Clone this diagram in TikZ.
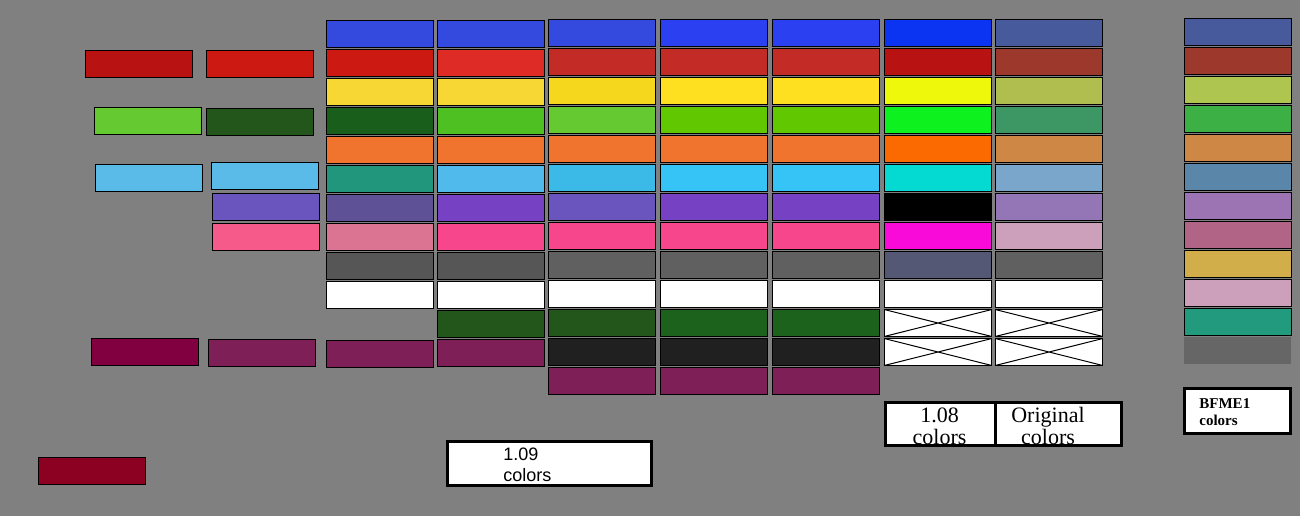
\documentclass[tikz,border=0pt]{standalone}
\usepackage{fontspec}
\setmainfont{Liberation Serif}
\setsansfont{Liberation Sans}
\usepackage{xcolor}
\usetikzlibrary{positioning}
\definecolor{bggray}{HTML}{808080}
\definecolor{blueA}{HTML}{3449DD}
\definecolor{blueB}{HTML}{2B40F0}
\definecolor{blueC}{HTML}{0A34F2}
\definecolor{blueD}{HTML}{465A9C}
\definecolor{redA}{HTML}{CC1A12}
\definecolor{redB}{HTML}{DE2B25}
\definecolor{redC}{HTML}{C32B27}
\definecolor{redD}{HTML}{B91212}
\definecolor{redE}{HTML}{9C382C}
\definecolor{yelA}{HTML}{F7D733}
\definecolor{yelB}{HTML}{F5D81E}
\definecolor{yelC}{HTML}{FFE020}
\definecolor{yelD}{HTML}{EDF80A}
\definecolor{yelE}{HTML}{AFBE4E}
\definecolor{yelF}{HTML}{AEC650}
\definecolor{grnA}{HTML}{1A5E1C}
\definecolor{grnB}{HTML}{4EC021}
\definecolor{grnC}{HTML}{65C932}
\definecolor{grnD}{HTML}{61C700}
\definecolor{grnE}{HTML}{0DF11F}
\definecolor{grnF}{HTML}{3D9764}
\definecolor{grnG}{HTML}{3DB045}
\definecolor{dkgrn}{HTML}{22561B}
\definecolor{dkgrnB}{HTML}{1C621C}
\definecolor{orgA}{HTML}{F0742E}
\definecolor{orgB}{HTML}{FB6A00}
\definecolor{orgC}{HTML}{CF8746}
\definecolor{tealA}{HTML}{21967D}
\definecolor{tealB}{HTML}{219A7E}
\definecolor{cyanA}{HTML}{4FBAEB}
\definecolor{cyanL}{HTML}{5ABBE8}
\definecolor{cyanB}{HTML}{3BBAE8}
\definecolor{cyanC}{HTML}{35C4F5}
\definecolor{cyanD}{HTML}{04DAD2}
\definecolor{cyanE}{HTML}{7AA6CB}
\definecolor{steel}{HTML}{5A86AA}
\definecolor{purA}{HTML}{5F5195}
\definecolor{purB}{HTML}{7641C3}
\definecolor{purC}{HTML}{6A55BE}
\definecolor{purD}{HTML}{9475B5}
\definecolor{purE}{HTML}{9C74B4}
\definecolor{pinkA}{HTML}{DB7493}
\definecolor{pinkB}{HTML}{F7468B}
\definecolor{pinkC}{HTML}{F55A8B}
\definecolor{pinkD}{HTML}{CC9FBA}
\definecolor{magent}{HTML}{FA0AD8}
\definecolor{roseB}{HTML}{B16485}
\definecolor{goldA}{HTML}{D1AE4A}
\definecolor{grayA}{HTML}{565656}
\definecolor{grayB}{HTML}{606060}
\definecolor{grayC}{HTML}{666666}
\definecolor{slate}{HTML}{545875}
\definecolor{nearblack}{HTML}{202020}
\definecolor{wineA}{HTML}{800040}
\definecolor{wineB}{HTML}{7F1F57}
\definecolor{crimson}{HTML}{8C0022}

\tikzset{
  swatch/.style={draw=black, line width=0.6pt, minimum width=53.4pt, minimum height=13.4pt,
                 inner sep=0pt, outer sep=0pt, anchor=north west},
  crossed/.style={swatch, fill=white},
  legend/.style={draw=black, line width=1.5pt, fill=white, inner sep=0pt, outer sep=0pt,
                 anchor=north west},
}

\begin{document}
\begin{tikzpicture}[x=0.5pt, y=-0.5pt]
  \fill[bggray] (0,0) rectangle (1300,516);

  % loose swatches on the left
  \node[swatch, fill=redD] (lA1) at (85.6,50.6) {};
  \node[swatch, fill=redA] (lA2) at (206.6,50.6) {};
  \node[swatch, fill=grnC] (lB1) at (94.6,107.6) {};
  \node[swatch, fill=dkgrn] (lB2) at (206.6,108.6) {};
  \node[swatch, fill=cyanL] (lC1) at (95.6,164.6) {};
  \node[swatch, fill=cyanL] (lC2) at (211.6,162.6) {};
  \node[swatch, fill=purC] (lC3) at (212.6,193.6) {};
  \node[swatch, fill=pinkC] (lC4) at (212.6,223.6) {};
  \node[swatch, fill=wineA] (lD1) at (91.6,338.6) {};
  \node[swatch, fill=wineB] (lD2) at (208.6,339.6) {};
  \node[swatch, fill=crimson] (lE) at (38.6,457.6) {};

  % palette columns
  \foreach \c [count=\i from 0] in {blueA, redA, yelA, grnA, orgA, tealA, purA, pinkA, grayA, white}
    \node[swatch, fill=\c] (c1r\i) at (326.6,{20.6+29*\i}) {};
  \node[swatch, fill=wineB] (c1r11) at (326.6,340.6) {};

  \foreach \c [count=\i from 0] in {blueA, redB, yelA, grnB, orgA, cyanA, purB, pinkB, grayA, white, dkgrn, wineB}
    \node[swatch, fill=\c] (c2r\i) at (437.6,{20.6+29*\i}) {};

  \foreach \c [count=\i from 0] in {blueA, redC, yelB, grnC, orgA, cyanB, purC, pinkB, grayB, white, dkgrn, nearblack, wineB}
    \node[swatch, fill=\c] (c3r\i) at (548.6,{19.6+29*\i}) {};

  \foreach \c [count=\i from 0] in {blueB, redC, yelC, grnD, orgA, cyanC, purB, pinkB, grayB, white, dkgrnB, nearblack, wineB}
    \node[swatch, fill=\c] (c4r\i) at (660.6,{19.6+29*\i}) {};

  \foreach \c [count=\i from 0] in {blueB, redC, yelC, grnD, orgA, cyanC, purB, pinkB, grayB, white, dkgrnB, nearblack, wineB}
    \node[swatch, fill=\c] (c5r\i) at (772.6,{19.6+29*\i}) {};

  \foreach \c [count=\i from 0] in {blueC, redD, yelD, grnE, orgB, cyanD, black, magent, slate, white}
    \node[swatch, fill=\c] (c6r\i) at (884.6,{19.6+29*\i}) {};

  \foreach \c [count=\i from 0] in {blueD, redE, yelE, grnF, orgC, cyanE, purD, pinkD, grayB, white}
    \node[swatch, fill=\c] (c7r\i) at (995.6,{19.6+29*\i}) {};

  % empty slots
  \foreach \r in {10,11} {
    \node[crossed] (c6r\r) at (884.6,{19.6+29*\r}) {};
    \draw[line width=0.5pt] (c6r\r.north west) -- (c6r\r.south east) (c6r\r.south west) -- (c6r\r.north east);
    \node[crossed] (c7r\r) at (995.6,{19.6+29*\r}) {};
    \draw[line width=0.5pt] (c7r\r.north west) -- (c7r\r.south east) (c7r\r.south west) -- (c7r\r.north east);
  }

  % BFME1 column
  \foreach \c [count=\i from 0] in {blueD, redE, yelF, grnG, orgC, steel, purE, roseB, goldA, pinkD, tealB}
    \node[swatch, fill=\c] (bfr\i) at (1184.6,{18.6+29*\i}) {};
  \node[swatch, draw=none, fill=grayC] (bfr11) at (1184,337) {};

  % captions
  \node[legend, minimum width=102pt, minimum height=22pt] (k109) at (447.5,441.5) {};
  \node[font=\sffamily\fontsize{9}{10.5}\selectfont, align=left, inner sep=0pt, anchor=north west]
    (t109) at (503,448) {1.09\\colors};

  \node[legend, minimum width=54.75pt, minimum height=21.5pt] (k108) at (885.5,402.5) {};
  \node[legend, minimum width=63.25pt, minimum height=21.5pt] (korig) at (995,402.5) {};
  \node[font=\fontsize{11}{11}\selectfont, align=center, inner sep=0pt, anchor=north]
    (t108) at (939.5,407) {1.08\\colors};
  \node[font=\fontsize{11}{11}\selectfont, align=center, inner sep=0pt, anchor=north]
    (torig) at (1048,407) {Original\\colors};

  \node[legend, minimum width=53pt, minimum height=22.5pt] (kbf) at (1184.5,388.5) {};
  \node[font=\bfseries\fontsize{7.5}{8.5}\selectfont, align=left, inner sep=0pt, anchor=north west]
    (tbf) at (1199,398) {BFME1\\colors};
\end{tikzpicture}
\end{document}
